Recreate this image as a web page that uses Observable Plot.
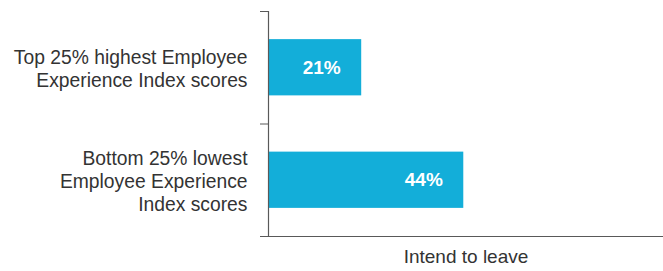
<!DOCTYPE html>
<html>
<head>
<meta charset="utf-8">
<script src="https://cdn.jsdelivr.net/npm/d3@7"></script>
<script src="https://cdn.jsdelivr.net/npm/@observablehq/plot@0.6"></script>
<style>
  html, body { margin: 0; padding: 0; background: #fff; }
  #chart svg { display: block; font-family: "Liberation Sans", Arial, sans-serif; }
</style>
</head>
<body>
<div id="chart"></div>
<script>
const categories = [
  "Top 25% highest Employee\nExperience Index scores",
  "Bottom 25% lowest\nEmployee Experience\nIndex scores"
];
const values = [21, 44];
const axisLabel = "Intend to leave";

const data = categories.map((label, i) => ({label, value: values[i], i}));

const barColor = "#13AED9";
const textColor = "#333333";
const axisColor = "#595959";

const chart = Plot.plot({
  width: 663,
  height: 271,
  marginLeft: 268,
  marginRight: 0,
  marginTop: 11,
  marginBottom: 35,
  x: {domain: [0, 89], axis: null},
  y: {domain: [0, categories.length], reverse: true, axis: null},
  marks: [
    Plot.rectX(data, {
      x: "value",
      y1: d => d.i + 0.25,
      y2: d => d.i + 0.75,
      fill: barColor
    }),
    Plot.axisY({
      ticks: d3.range(categories.length + 1),
      tickSize: 8,
      tickFormat: () => "",
      stroke: axisColor,
      strokeOpacity: 1,
      label: null
    }),
    Plot.ruleX([0], {stroke: axisColor, strokeWidth: 1.2}),
    Plot.ruleY([categories.length], {stroke: axisColor, strokeWidth: 1.2}),
    Plot.text(data, {
      x: 0,
      y: d => d.i + 0.5,
      text: "label",
      textAnchor: "end",
      dx: -21,
      fontSize: 19.3,
      lineHeight: 1.2,
      fill: textColor
    }),
    Plot.text(data, {
      x: "value",
      y: d => d.i + 0.5,
      text: d => d.value + "%",
      textAnchor: "end",
      dx: -21,
      fontSize: 19,
      fontWeight: "bold",
      fill: "white"
    }),
    Plot.text([axisLabel], {
      frameAnchor: "bottom",
      dy: 26,
      fontSize: 19,
      fill: textColor
    })
  ]
});
document.getElementById("chart").appendChild(chart);
</script>
</body>
</html>
